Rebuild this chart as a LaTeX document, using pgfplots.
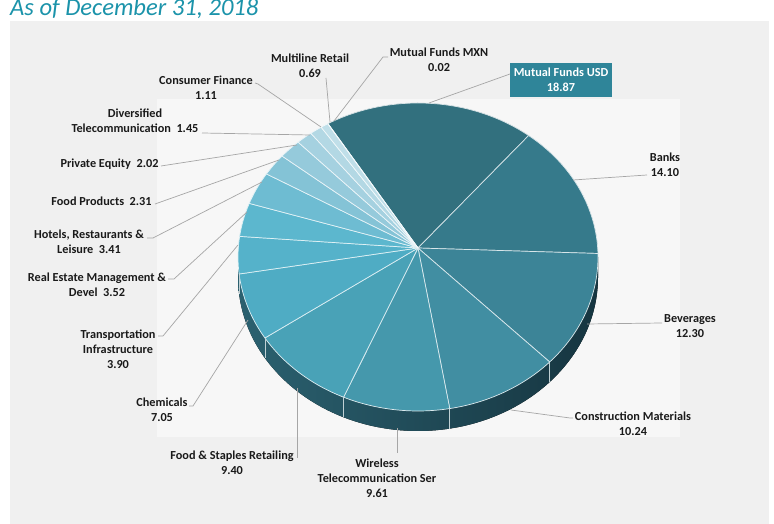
\documentclass[border=0pt]{standalone}
\usepackage{fontspec}
\setmainfont{Carlito}
\usepackage{pgfplots}
\pgfplotsset{compat=1.18}
\usepackage{pgfplotstable}

\definecolor{sc0}{HTML}{32707E}
\definecolor{sc1}{HTML}{367A8B}
\definecolor{sc2}{HTML}{3C8497}
\definecolor{sc3}{HTML}{418EA2}
\definecolor{sc4}{HTML}{4598AC}
\definecolor{sc5}{HTML}{49A2B7}
\definecolor{sc6}{HTML}{4FACC4}
\definecolor{sc7}{HTML}{55B2CA}
\definecolor{sc8}{HTML}{5CB7CE}
\definecolor{sc9}{HTML}{6EBCD2}
\definecolor{sc10}{HTML}{84C3D6}
\definecolor{sc11}{HTML}{95CADB}
\definecolor{sc12}{HTML}{A5D1E0}
\definecolor{sc13}{HTML}{B3D8E4}
\definecolor{sc14}{HTML}{C0DFE9}
\definecolor{sc15}{HTML}{CDE6EE}
\definecolor{panel}{HTML}{F0F0F0}
\definecolor{innerbg}{HTML}{F7F7F7}
\definecolor{titlec}{HTML}{1B93AA}
\definecolor{boxc}{HTML}{2F8599}
\definecolor{leader}{HTML}{A6A6A6}
\definecolor{wallL}{HTML}{2B6170}
\definecolor{wallR}{HTML}{163540}
\definecolor{txt}{HTML}{1A1A1A}

% slices clockwise from the top-left: Mutual Funds USD, Banks, Beverages,
% Construction Materials, Wireless Telecom, Food & Staples, Chemicals,
% Transportation Infra, Real Estate, Hotels, Food Products, Private Equity,
% Diversified Telecom, Consumer Finance, Multiline Retail, Mutual Funds MXN
\pgfplotstableread{
slice value
0 18.87
1 14.10
2 12.30
3 10.24
4 9.61
5 9.40
6 7.05
7 3.90
8 3.52
9 3.41
10 2.31
11 2.02
12 1.45
13 1.11
14 0.69
15 0.02
}\piedata

\tikzset{lbl/.style={font=\fontsize{12.3}{15}\selectfont\bfseries, text=txt, align=center, inner sep=0pt},
         ld/.style={draw=leader, line width=0.7bp}}

\begin{document}
\begin{tikzpicture}
\begin{axis}[x=1bp,y=1bp,xmin=0,xmax=774,ymin=0,ymax=524,hide axis,clip=false,scale only axis]
\coordinate (bl) at (axis cs:0,0);
\coordinate (tr) at (axis cs:774,524);
\fill[panel] (axis cs:10,0) rectangle (axis cs:769,503);
\fill[innerbg] (axis cs:157,87) rectangle (axis cs:680,425);
% side wall
\fill[left color=wallL, right color=wallR] (axis cs:238,267) arc[start angle=180,end angle=360,x radius=180bp,y radius=154bp] -- ++(0,-20bp) arc[start angle=360,end angle=180,x radius=180bp,y radius=154bp] -- cycle;
% slices
\gdef\cum{120}
\pgfplotsforeachungrouped \i in {0,...,15}{%
  \pgfplotstablegetelem{\i}{value}\of\piedata
  \pgfmathsetmacro{\a}{\cum}%
  \pgfmathsetmacro{\b}{\cum-3.6*\pgfplotsretval}%
  \pgfmathsetmacro{\xa}{418+180*cos(\a)}%
  \pgfmathsetmacro{\ya}{267+154*sin(\a)}%
  \pgfmathsetmacro{\xb}{418+180*cos(\b)}%
  \pgfmathsetmacro{\yb}{267+154*sin(\b)}%
  \pgfmathsetmacro{\ybb}{\yb-20}%
  \edef\temp{\noexpand\fill[sc\i, draw=white!80!sc\i, line width=0.7bp, line join=round] (axis cs:418,276) -- (axis cs:\xa,\ya) arc[start angle=\a, end angle=\b, x radius=180bp, y radius=154bp] -- cycle;}%
  \temp
  \ifdim\b pt<0pt \ifdim\b pt>-180pt
    \edef\temp{\noexpand\draw[white!70!wallL, line width=0.7bp] (axis cs:\xb,\yb) -- (axis cs:\xb,\ybb);}%
    \temp
  \fi\fi
  \xdef\cum{\b}%
}
% title
\node[anchor=base west, inner sep=0pt, font=\fontsize{24.7}{27}\selectfont\itshape, text=titlec] at (axis cs:10,508) {As of December 31, 2018};
% labels and leaders
\node[lbl] at (axis cs:310,458.5) {Multiline Retail\\0.69};
\draw[ld] (axis cs:326,446) -- (axis cs:330,402);
\node[lbl] at (axis cs:439,464.5) {Mutual Funds MXN\\0.02};
\draw[ld] (axis cs:388,467) -- (axis cs:383,467) -- (axis cs:334,403);
\node[lbl, fill=boxc, text=white, minimum width=102bp, minimum height=34bp] at (axis cs:561,444) {Mutual Funds USD\\18.87};
\draw[ld] (axis cs:510,450) -- (axis cs:429,421);
\node[lbl] at (axis cs:206,436.5) {Consumer Finance\\1.11};
\draw[ld] (axis cs:255,441) -- (axis cs:258,440) -- (axis cs:321,397);
\node[lbl] at (axis cs:135,403.5) {Diversified\\Telecommunication~ 1.45};
\draw[ld] (axis cs:202,391) -- (axis cs:310,389);
\node[lbl] at (axis cs:109.5,360) {Private Equity~ 2.02};
\draw[ld] (axis cs:161,358) -- (axis cs:297,379);
\node[lbl] at (axis cs:101.5,323) {Food Products~ 2.31};
\draw[ld] (axis cs:155,320) -- (axis cs:279,364);
\node[lbl] at (axis cs:89,282.5) {Hotels, Restaurants \&\\Leisure~ 3.41};
\draw[ld] (axis cs:147,286) -- (axis cs:153,286) -- (axis cs:262,342);
\node[lbl] at (axis cs:97,239) {Real Estate Management \&\\Devel~ 3.52};
\draw[ld] (axis cs:168,245) -- (axis cs:174,245) -- (axis cs:247,312);
\node[lbl] at (axis cs:118,175) {Transportation\\Infrastructure\\3.90};
\draw[ld] (axis cs:158,188) -- (axis cs:163,188) -- (axis cs:238,279);
\node[lbl] at (axis cs:162,114.5) {Chemicals\\7.05};
\draw[ld] (axis cs:189,118) -- (axis cs:193,118) -- (axis cs:248,204);
\node[lbl] at (axis cs:232,61.5) {Food \& Staples Retailing\\9.40};
\draw[ld] (axis cs:297,66) -- (axis cs:297,136);
\node[lbl] at (axis cs:377,46) {Wireless\\Telecommunication Ser\\9.61};
\draw[ld] (axis cs:397,71) -- (axis cs:397,96);
\node[lbl] at (axis cs:633,100.5) {Construction Materials\\10.24};
\draw[ld] (axis cs:573,106) -- (axis cs:570,106) -- (axis cs:511,114);
\node[lbl] at (axis cs:690,197.5) {Beverages\\12.30};
\draw[ld] (axis cs:662,201) -- (axis cs:587,200);
\node[lbl] at (axis cs:665,359.5) {Banks\\14.10};
\draw[ld] (axis cs:647,349) -- (axis cs:573,344);
\end{axis}
\pgfresetboundingbox
\useasboundingbox (bl) rectangle (tr);
\end{tikzpicture}
\end{document}
